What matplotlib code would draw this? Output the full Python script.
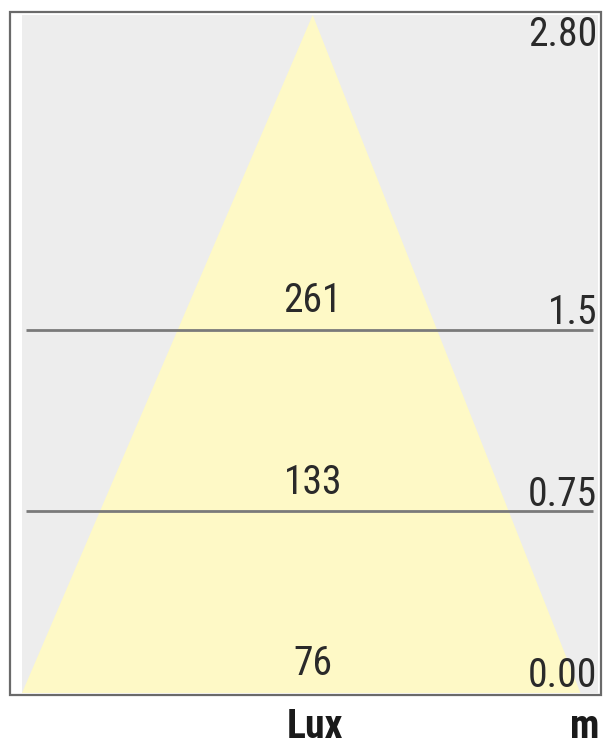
import matplotlib
matplotlib.use('Agg')
import matplotlib.pyplot as plt
from matplotlib.patches import Rectangle, Polygon
from matplotlib import font_manager

# pick a narrow sans if there is one
names = {f.name for f in font_manager.fontManager.ttflist}
narrow = [n for n in ['Liberation Sans Narrow', 'Roboto Condensed', 'Open Sans Condensed',
                      'DejaVu Sans Condensed'] if n in names]
plt.rcParams['font.family'] = narrow + ['Liberation Sans', 'DejaVu Sans']

# mounting height (m) and illuminance at each measuring plane
top_height = 2.80
heights = [1.5, 0.75, 0.00]
height_labels = ['1.5', '0.75', '0.00']
lux = [261, 133, 76]
cone_left, cone_right = -1.08, 0.995  # cone edges on the floor (m)

fig = plt.figure(figsize=(6.09, 7.49), dpi=100)

# outer frame
W, H = 609, 749
fig.patches.append(Rectangle((10 / W, 1 - 695 / H), 591 / W, 683 / H,
                             transform=fig.transFigure, fill=False,
                             edgecolor='#6a6a6a', linewidth=1.6))

ax = fig.add_axes([22 / W, 1 - 693 / H, 576 / W, 678 / H])
ax.set_facecolor('#ededed')
ax.set_xlim(-1.08, 1.06)
ax.set_ylim(0, top_height)
for s in ax.spines.values():
    s.set_visible(False)
ax.set_xticks([])
ax.set_yticks([])

# light cone
apex_x = 0.0
cone = Polygon([(apex_x, top_height), (cone_left, 0), (cone_right, 0)],
               closed=True, facecolor='#fef9c6', edgecolor='none')
ax.add_patch(cone)

fs = 28.5
for h, hl, lx in zip(heights, height_labels, lux):
    if h > 0:
        ax.plot([-1.065, 1.04], [h, h], color='#7a7a7a', lw=2, solid_capstyle='butt')
    ax.text(apex_x, h + 0.04, str(lx), ha='center', va='bottom',
            fontsize=fs, color='#2a2a2a')
    ax.text(1.058, h - 0.01, hl, ha='right', va='bottom',
            fontsize=fs, color='#2a2a2a')

ax.text(1.058, top_height, '%.2f' % top_height, ha='right', va='top',
        fontsize=fs, color='#2a2a2a')

fig.text(315 / W, 1 - 738 / H, 'Lux', ha='center', va='baseline',
         fontsize=fs, fontweight='bold', color='#1a1a1a')
fig.text(600 / W, 1 - 738 / H, 'm', ha='right', va='baseline',
         fontsize=fs, fontweight='bold', color='#1a1a1a')

fig.savefig('out.png', dpi=100)
